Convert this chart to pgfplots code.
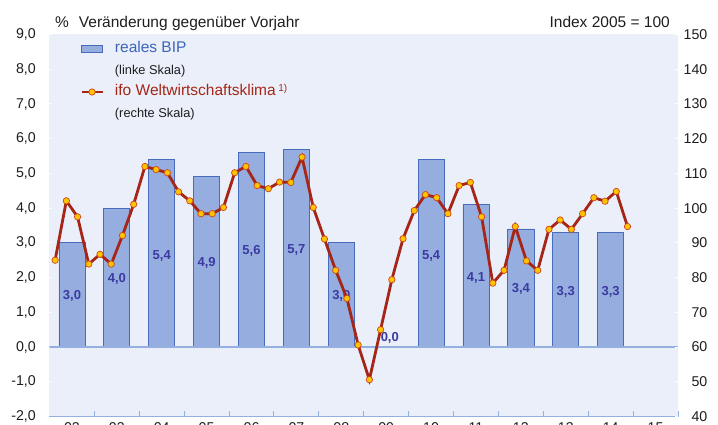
\documentclass[border=0pt]{standalone}
\usepackage{pgfplots}
\pgfplotsset{compat=1.18}
\usepackage{fontspec}
\setmainfont{Liberation Sans}
\definecolor{bgc}{RGB}{235,239,250}
\definecolor{barfill}{RGB}{150,173,224}
\definecolor{bardraw}{RGB}{72,108,188}
\definecolor{barlab}{RGB}{58,58,160}
\definecolor{lineblue}{RGB}{150,175,225}
\definecolor{ifored}{RGB}{165,38,22}
\definecolor{mkfill}{RGB}{255,196,0}
\definecolor{mkdraw}{RGB}{205,70,25}
\definecolor{bipblue}{RGB}{60,100,185}
\definecolor{txt}{RGB}{30,30,30}
\newcommand\tickfont{\fontsize{14.2bp}{16bp}\selectfont}
\newcommand\titlefont{\fontsize{15.5bp}{18bp}\selectfont}
\newcommand\smallfont{\fontsize{12.8bp}{15bp}\selectfont}
\newcommand\barfont{\fontsize{13bp}{15bp}\selectfont\bfseries}
\pgfplotsset{
  ifoline/.style={ifored, line width=2.8bp, mark=*, mark size=3.2bp, mark options={fill=mkfill, draw=mkdraw, line width=0.7bp}},
  ifolegend/.style={legend image code/.code={\draw[mark repeat=2, mark phase=2, ##1] plot coordinates {(0bp,0bp) (10.5bp,0bp) (21bp,0bp)};}},
  barlegend/.style={legend image code/.code={\draw[fill=barfill, draw=bardraw, line width=0.8bp] (0bp,-3.8bp) rectangle (21bp,3.8bp);}},
}
\begin{document}
\begin{tikzpicture}
\path[use as bounding box] (0,0) rectangle (718bp,425bp);
\begin{axis}[
  at={(49.5bp,8.5bp)}, anchor=south west, scale only axis,
  width=628.5bp, height=382bp,
  xmin=2002, xmax=2016, ymin=-2, ymax=9,
  axis background/.style={fill=bgc},
  axis x line*=bottom, axis y line*=left,
  x axis line style={draw=lineblue, line width=1.3bp, -},
  y axis line style={draw=none},
  xtick={2002.5,2003.5,2004.5,2005.5,2006.5,2007.5,2008.5,2009.5,2010.5,2011.5,2012.5,2013.5,2014.5,2015.5},
  xticklabels={02,03,04,05,06,07,08,09,10,11,12,13,14,15},
  minor xtick={2003,2004,2005,2006,2007,2008,2009,2010,2011,2012,2013,2014,2015,2016},
  xtick align=inside,
  major x tick style={draw=none},
  minor x tick style={draw=lineblue, line width=1bp},
  minor tick length=5bp,
  x tick label style={font=\tickfont, text=txt, inner sep=0pt, yshift=-6bp},
  ytick={-2,-1,0,1,2,3,4,5,6,7,8,9},
  yticklabels={{-2,0},{-1,0},{0,0},{1,0},{2,0},{3,0},{4,0},{5,0},{6,0},{7,0},{8,0},{9,0}},
  y tick label style={font=\tickfont, text=txt, inner sep=0pt, anchor=east, xshift=-13.5bp},
  major y tick style={draw=white, line width=1bp},
  ytick align=inside, major tick length=3bp,
]
\addplot[ybar, bar width=0.58, fill=barfill, draw=bardraw, line width=0.8bp] coordinates {
(2002.5,3.0) (2003.5,4.0) (2004.5,5.4) (2005.5,4.9) (2006.5,5.6) (2007.5,5.7) (2008.5,3.0)
(2009.5,0.0) (2010.5,5.4) (2011.5,4.1) (2012.5,3.4) (2013.5,3.3) (2014.5,3.3)};
\addplot[draw=none, mark=none, nodes near coords, point meta=explicit symbolic,
  nodes near coords align={center},
  every node near coord/.append style={font=\barfont, text=barlab, inner sep=0pt}]
  table[x=x, y=y, meta=l] {
x y l
2002.5 1.46 3,0
2003.5 1.97 4,0
2004.5 2.63 5,4
2005.5 2.41 4,9
2006.5 2.77 5,6
2007.5 2.78 5,7
2008.5 1.46 3,0
2009.58 0.25 0,0
2010.5 2.63 5,4
2011.5 2.00 4,1
2012.5 1.68 3,4
2013.5 1.60 3,3
2014.5 1.60 3,3
};
\draw[lineblue, line width=2.6bp] (axis cs:2002,0) -- (axis cs:2016,0);
\end{axis}
\begin{axis}[
  at={(49.5bp,8.5bp)}, anchor=south west, scale only axis,
  width=628.5bp, height=382bp,
  xmin=2002, xmax=2016, ymin=40, ymax=150,
  axis x line=none, axis y line*=right,
  y axis line style={draw=none},
  ytick={40,50,60,70,80,90,100,110,120,130,140,150},
  /pgf/number format/assume math mode=true,
  y tick label style={font=\tickfont, text=txt, inner sep=0pt, anchor=east, xshift=29.5bp},
  major y tick style={draw=white, line width=1bp},
  ytick align=inside, major tick length=3bp,
  legend style={at={(0.0485,0.9815)}, anchor=north west, draw=none, fill=none,
    inner sep=0pt, row sep=7bp, font=\titlefont,
    nodes={inner sep=0pt, text height=11bp, text depth=3.5bp},
    /tikz/every odd column/.append style={column sep=11bp}},
  legend cell align=left,
]
\addlegendimage{barlegend}
\addlegendentry{\textcolor{bipblue}{reales BIP}}
\addlegendimage{empty legend}
\addlegendentry{\smallfont\textcolor{txt}{(linke Skala)}}
\addlegendimage{ifoline, ifolegend}
\addlegendentry{\textcolor{ifored}{ifo Weltwirtschaftsklima\,\raisebox{4bp}{\fontsize{10bp}{12bp}\selectfont 1)}}}
\addlegendimage{empty legend}
\addlegendentry{\smallfont\textcolor{txt}{(rechte Skala)}}
\addplot[ifoline, forget plot] coordinates {
(2002.125,85.0) (2002.375,102.1) (2002.625,97.5) (2002.875,83.9)
(2003.125,86.7) (2003.375,83.9) (2003.625,92.1) (2003.875,101.1)
(2004.125,112.0) (2004.375,111.1) (2004.625,110.2) (2004.875,104.7)
(2005.125,102.1) (2005.375,98.4) (2005.625,98.4) (2005.875,100.2)
(2006.125,110.2) (2006.375,112.0) (2006.625,106.5) (2006.875,105.6)
(2007.125,107.5) (2007.375,107.4) (2007.625,114.7) (2007.875,100.2)
(2008.125,91.1) (2008.375,82.1) (2008.625,74.0) (2008.875,60.6)
(2009.125,50.6) (2009.375,65.0) (2009.625,79.4) (2009.875,91.2)
(2010.125,99.3) (2010.375,103.9) (2010.625,103.0) (2010.875,98.4)
(2011.125,106.5) (2011.375,107.4) (2011.625,97.5) (2011.875,78.4)
(2012.125,82.1) (2012.375,94.7) (2012.625,84.8) (2012.875,82.1)
(2013.125,93.9) (2013.375,96.6) (2013.625,93.9) (2013.875,98.4)
(2014.125,103.0) (2014.375,102.0) (2014.625,104.8) (2014.875,94.7)};
\end{axis}
\node[anchor=base west, font=\titlefont, text=txt, inner sep=0pt] at (55bp,397.3bp) {\%\hspace{10bp}Veränderung gegenüber Vorjahr};
\node[anchor=base east, font=\titlefont, text=txt, inner sep=0pt] at (670bp,397.3bp) {Index 2005 = 100};
\end{tikzpicture}
\end{document}
